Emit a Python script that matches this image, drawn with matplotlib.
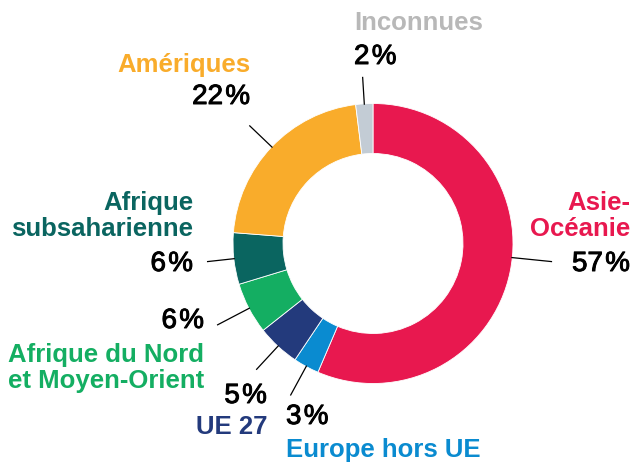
import matplotlib.pyplot as plt
import matplotlib.patheffects as pe
import numpy as np

plt.rcParams['font.family'] = ['Liberation Sans', 'DejaVu Sans']

categories = ['Asie-\nOcéanie', 'Europe hors UE', 'UE 27',
              'Afrique du Nord\net Moyen-Orient', 'Afrique\nsubsaharienne',
              'Amériques', 'Inconnues']
values = [57, 3, 5, 6, 6, 22, 2]
pct_labels = ['57\u200a%', '3\u200a%', '5\u200a%', '6\u200a%', '6\u200a%', '22\u200a%', '2\u200a%']
colors = ['#E8184F', '#0A8BD0', '#233A7C', '#14AE62', '#0A6560', '#F9AC2B', '#C3CCD5']
text_colors = ['#E8184F', '#0A8BD0', '#233A7C', '#14AE62', '#0A6560', '#F9AC2B', '#B8B8B8']

H = 464
fig = plt.figure(figsize=(6.32, 4.64), dpi=100)
ax = fig.add_axes([0, 0, 1, 1])

cx, cy, R = 373, H - 244.5, 140
wedges, _ = ax.pie(values, colors=colors, startangle=90, counterclock=False,
                   radius=R, center=(cx, cy),
                   wedgeprops=dict(width=50, edgecolor='white', linewidth=0.6))
ax.set_xlim(0, 632)
ax.set_ylim(0, H)
ax.set_aspect('auto')
ax.axis('off')

# leader lines (radial, from the wedge middle)
angle_fix = {0: 5.8}
line_len = [180, 173, 172, 176, 167, 171, 167]
for i, w in enumerate(wedges):
    a = np.deg2rad((w.theta1 + w.theta2) / 2 + angle_fix.get(i, 0))
    r0, r1 = R - 1, line_len[i]
    ax.plot([cx + r0 * np.cos(a), cx + r1 * np.cos(a)],
            [cy + r0 * np.sin(a), cy + r1 * np.sin(a)],
            color='black', lw=0.9, solid_capstyle='butt')

# label layout: (x, y_cat, y_pct, ha), y in image pixels
layout = [
    (630, 216, 265, 'right'),
    (286, 450, 418, 'left'),
    (267, 427, 397, 'right'),
    (204, 368, 322, 'right'),
    (193, 216, 265, 'right'),
    (250, 65, 98, 'right'),
    (354, 23, 58, 'left'),
]
thick = [pe.withStroke(linewidth=0.7, foreground='black')]
for i, (x, yc, yp, ha) in enumerate(layout):
    ax.text(x, H - yc, categories[i], color=text_colors[i], fontsize=18.5,
            fontweight='bold', ha=ha, va='center', linespacing=1.08)
    ax.text(x, H - yp, pct_labels[i], color='black', fontsize=20,
            ha=ha, va='center', path_effects=thick)

fig.savefig('out.png', dpi=100)
